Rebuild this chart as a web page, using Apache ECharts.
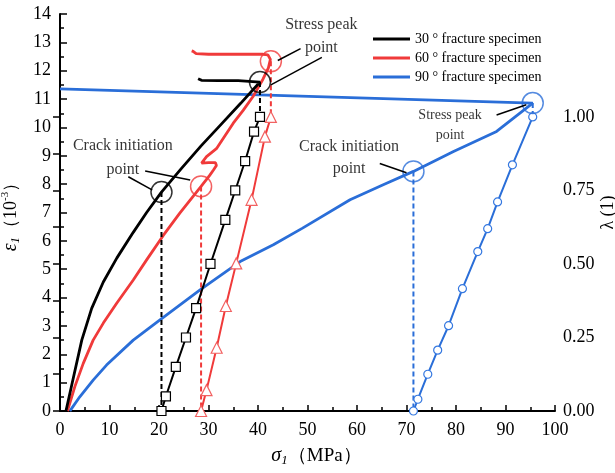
<!DOCTYPE html>
<html>
<head>
<meta charset="utf-8">
<script src="https://cdn.jsdelivr.net/npm/echarts@6/dist/echarts.min.js"></script>
<style>
  html, body { margin: 0; padding: 0; background: #ffffff; }
  #chart { width: 615px; height: 473px; }
</style>
</head>
<body>
<div id="chart"></div>
<script>
// ---- data -------------------------------------------------------------
const specimenNames = ['30 ° fracture specimen', '60 ° fracture specimen', '90 ° fracture specimen'];

// axial strain ε1 (10^-3) against axial stress σ1 (MPa), incl. post-peak branch
const strain30 = [
  [1.2, 0], [2.8, 1.25], [4.4, 2.5], [6.4, 3.62], [8.75, 4.55], [11.5, 5.4],
  [14.8, 6.3], [17.5, 7.0], [20.5, 7.72], [24.5, 8.55], [28.5, 9.35], [32.5, 10.1],
  [36.5, 10.85], [40.4, 11.6], [40.6, 11.66], [36, 11.65], [32, 11.65], [28.6, 11.66], [27.9, 11.72]
];
const strain60 = [
  [1.5, 0], [3.0, 0.86], [4.7, 1.68], [6.7, 2.5], [8.75, 3.1], [11.45, 3.8],
  [14.8, 4.62], [17.5, 5.33], [20.9, 6.2], [24.2, 6.98], [28.5, 7.92], [30.2, 8.3],
  [31.0, 8.5], [31.6, 8.66], [31.4, 8.76], [30.0, 8.76], [28.6, 8.74], [29.6, 8.97],
  [31.6, 9.25], [33.3, 9.7], [35, 10.15], [37, 10.6], [39, 11.09], [41, 11.7],
  [42.1, 12.1], [42.5, 12.4], [42.0, 12.56], [41, 12.58], [35, 12.58], [30, 12.58],
  [27.5, 12.6], [26.9, 12.68], [26.6, 12.7]
];
const strain90 = [
  [2.0, 0], [2.4, 0.1], [4.0, 0.5], [6.7, 1.09], [9.4, 1.62], [14.8, 2.5],
  [20.2, 3.21], [28.3, 4.27], [36.4, 5.27], [43.1, 5.86], [49.0, 6.45], [58.6, 7.45],
  [65.3, 7.98], [71.4, 8.45], [79.5, 9.15], [88.2, 9.86], [95.5, 10.86], [0, 11.36]
];

// crack damage ratio λ (1) against σ1 from crack initiation to peak
const lambda30 = [
  [20.5, 0], [21.4, 0.05], [23.4, 0.15], [25.45, 0.25], [27.5, 0.35], [30.4, 0.5],
  [33.4, 0.65], [35.4, 0.75], [37.4, 0.85], [39.2, 0.95], [40.4, 1.0]
];
const lambda60 = [
  [28.5, 0], [29.6, 0.071], [31.65, 0.215], [33.5, 0.357], [35.6, 0.502],
  [38.7, 0.718], [41.4, 0.933], [42.6, 1.0]
];
const lambda90 = [
  [71.4, 0], [72.3, 0.04], [74.3, 0.125], [76.3, 0.207], [78.5, 0.29], [81.3, 0.416],
  [84.4, 0.542], [86.4, 0.62], [88.4, 0.711], [91.4, 0.837], [95.5, 1.0]
];

// characteristic points [σ1, ε1]
const crackPoints = [[20.5, 7.72], [28.5, 7.92], [71.4, 8.45]];
const peakPoints = [[40.4, 11.6], [42.6, 12.33], [95.5, 10.86]];

// axis ticks
const lambdaTickValues = [0, 0.125, 0.25, 0.375, 0.5, 0.625, 0.75, 0.875, 1.0];
const lambdaLabelValues = [0, 0.25, 0.5, 0.75, 1.0];

// ---- layout & style ---------------------------------------------------
const SERIF = "'Liberation Serif', 'Times New Roman', serif";
const COLORS = ['#000000', '#f03a3a', '#2a6ed8'];
const MARKER_BORDER = ['#000000', '#f26262', '#3578e0'];
const MARKERS = ['rect', 'triangle', 'circle'];
const MARKER_SIZE = [9, 11, 8];

const W = 615, H = 473;
const GRID = { left: 60, right: 60, top: 14, bottom: 62 };
const LAMBDA_AXIS_TOP = 85;
const STRAIN_MAX = 14;
const LAMBDA_FULL_MAX = 1.35;
const plotH = H - GRID.top - GRID.bottom;
const lambdaAxisH = H - LAMBDA_AXIS_TOP - GRID.bottom;
const LAMBDA_VISIBLE_MAX = LAMBDA_FULL_MAX * lambdaAxisH / plotH;
const LAMBDA_TO_STRAIN = STRAIN_MAX / LAMBDA_FULL_MAX;

const strainSets = [strain30, strain60, strain90];
const lambdaSets = [lambda30, lambda60, lambda90];

const axisLineStyle = { color: '#000', width: 2 };
const tickLabel = { fontFamily: SERIF, fontSize: 18, color: '#000' };

const series = [];

// ε1 curves: 90° first so the others sit above it
[2, 1, 0].forEach(i => {
  series.push({
    name: specimenNames[i], type: 'line', xAxisIndex: 0, yAxisIndex: 0,
    data: strainSets[i], showSymbol: false, symbol: 'none',
    lineStyle: { color: COLORS[i], width: 2.8 }, itemStyle: { color: COLORS[i] },
    z: 2
  });
});

// dashed guides: crack initiation down to σ1 axis, peak down to λ = 1
[0, 1, 2].forEach(i => {
  const c = crackPoints[i], p = peakPoints[i];
  [[[c[0], c[1]], [c[0], 0]], [[p[0], p[1]], [p[0], LAMBDA_TO_STRAIN]]].forEach(seg => {
    series.push({
      type: 'line', xAxisIndex: 0, yAxisIndex: 0, data: seg, symbol: 'none',
      lineStyle: { color: COLORS[i], width: 2, type: [5, 3] }, z: 2, silent: true
    });
  });
});

// λ curves with hollow markers
[0, 1, 2].forEach(i => {
  series.push({
    name: 'λ ' + specimenNames[i], type: 'line', xAxisIndex: 0, yAxisIndex: 1,
    data: lambdaSets[i], symbol: MARKERS[i], symbolSize: MARKER_SIZE[i], showSymbol: true,
    lineStyle: { color: COLORS[i], width: 2 },
    itemStyle: { color: '#ffffff', borderColor: MARKER_BORDER[i], borderWidth: 1.2 },
    z: 3
  });
});

// hollow rings around the characteristic points
[0, 1, 2].forEach(i => {
  series.push({
    type: 'scatter', xAxisIndex: 0, yAxisIndex: 0,
    data: [crackPoints[i], peakPoints[i]], symbol: 'circle', symbolSize: 21,
    itemStyle: { color: 'rgba(0,0,0,0)', borderColor: COLORS[i], borderWidth: 1.5 },
    z: 4, silent: true
  });
});

// text notes and pointer arrows (placed in σ1–ε1 units)
const notes = [
  { at: [52.8, 13.22], text: 'Stress peak\npoint', size: 16, lh: 23 },
  { at: [12.7, 8.92], text: 'Crack initiation\npoint', size: 16, lh: 24 },
  { at: [58.4, 8.92], text: 'Crack initiation\npoint', size: 16, lh: 22 },
  { at: [78.8, 10.08], text: 'Stress peak\npoint', size: 14, lh: 20 }
];
series.push({
  type: 'scatter', xAxisIndex: 0, yAxisIndex: 0, symbolSize: 0, silent: true, z: 5,
  data: notes.map(n => ({
    value: n.at,
    label: {
      show: true, position: 'inside', formatter: n.text, align: 'center', verticalAlign: 'middle',
      fontFamily: SERIF, fontSize: n.size, lineHeight: n.lh, color: '#000'
    }
  }))
});

const arrows = [
  [[48.6, 12.78], [44.0, 12.36]],
  [[52.9, 12.47], [42.6, 11.5]],
  [[13.8, 8.26], [18.6, 7.8]],
  [[17.2, 8.46], [26.3, 8.15]],
  [[64.6, 8.73], [70.0, 8.4]],
  [[88.2, 10.44], [94.2, 10.8]]
];
series.push({
  type: 'line', xAxisIndex: 0, yAxisIndex: 0, data: [], silent: true, z: 5,
  markLine: {
    silent: true, animation: false,
    symbol: ['none', 'arrow'], symbolSize: [0, 9],
    label: { show: false },
    lineStyle: { color: '#000', width: 1.5, type: 'solid' },
    emphasis: { disabled: true },
    data: arrows.map(a => [{ coord: a[0] }, { coord: a[1] }])
  }
});

const gridBase = { left: GRID.left, right: GRID.right, bottom: GRID.bottom, containLabel: false, outerBoundsMode: 'none' };

const option = {
  animation: false,
  backgroundColor: '#ffffff',
  legend: {
    orient: 'vertical', left: 368, top: 27, itemWidth: 37, itemHeight: 3, itemGap: 5,
    icon: 'rect', data: specimenNames, selectedMode: false,
    textStyle: { fontFamily: SERIF, fontSize: 14, color: '#000' }
  },
  grid: [
    Object.assign({ top: GRID.top }, gridBase),
    Object.assign({ top: LAMBDA_AXIS_TOP }, gridBase)
  ],
  xAxis: [
    {
      gridIndex: 0, type: 'value', min: 0, max: 100, interval: 10,
      axisLine: { lineStyle: axisLineStyle },
      axisTick: { inside: true, length: 6, lineStyle: { color: '#000', width: 1.5 } },
      minorTick: { show: true, splitNumber: 2, length: 4, lineStyle: { color: '#000', width: 1.5 } },
      axisLabel: Object.assign({ margin: 10 }, tickLabel),
      splitLine: { show: false },
      name: '{e|σ}{s|1}{t|（MPa）}', nameLocation: 'middle', nameGap: 34,
      nameTextStyle: {
        rich: {
          e: { fontFamily: SERIF, fontStyle: 'italic', fontSize: 20, color: '#000', lineHeight: 22, padding: [0, 0, 0, 18] },
          s: { fontFamily: SERIF, fontStyle: 'italic', fontSize: 13, color: '#000', verticalAlign: 'bottom', lineHeight: 22 },
          t: { fontFamily: SERIF, fontSize: 19, color: '#000', lineHeight: 22 }
        }
      }
    },
    { gridIndex: 1, type: 'value', min: 0, max: 100, show: false }
  ],
  yAxis: [
    {
      gridIndex: 0, type: 'value', position: 'left', min: 0, max: STRAIN_MAX, interval: 1,
      axisLine: { show: true, lineStyle: axisLineStyle },
      axisTick: { inside: true, length: 7, lineStyle: { color: '#000', width: 1.5 } },
      minorTick: { show: true, splitNumber: 2, length: 4, lineStyle: { color: '#000', width: 1.5 } },
      axisLabel: Object.assign({ margin: 9 }, tickLabel),
      splitLine: { show: false },
      name: '{e|ε}{s|1}{t|（10}{p|-3}{t|）}', nameLocation: 'middle', nameGap: 30, nameRotate: 90,
      nameTextStyle: {
        rich: {
          e: { fontFamily: SERIF, fontStyle: 'italic', fontSize: 20, color: '#000', lineHeight: 22 },
          s: { fontFamily: SERIF, fontStyle: 'italic', fontSize: 13, color: '#000', verticalAlign: 'bottom', lineHeight: 22 },
          t: { fontFamily: SERIF, fontSize: 18, color: '#000', lineHeight: 22 },
          p: { fontFamily: SERIF, fontSize: 11, color: '#000', verticalAlign: 'top', lineHeight: 22 }
        }
      }
    },
    {
      gridIndex: 0, type: 'value', position: 'right', min: 0, max: LAMBDA_FULL_MAX,
      axisLine: { show: false }, axisTick: { show: false }, axisLabel: { show: false },
      splitLine: { show: false },
      name: 'λ (1)', nameLocation: 'middle', nameGap: 44, nameRotate: 90,
      nameTextStyle: { fontFamily: SERIF, fontSize: 18, color: '#000' }
    },
    {
      gridIndex: 1, type: 'value', position: 'right', min: 0, max: LAMBDA_VISIBLE_MAX,
      axisLine: { show: true, lineStyle: axisLineStyle },
      axisTick: { show: true, inside: true, length: 7, customValues: lambdaTickValues,
        lineStyle: { color: '#000', width: 1.5 } },
      axisLabel: Object.assign({ margin: 8, customValues: lambdaLabelValues,
        formatter: v => v.toFixed(2) }, tickLabel),
      splitLine: { show: false }
    }
  ],
  series: series
};

const chart = echarts.init(document.getElementById('chart'), null, { renderer: 'canvas' });
chart.setOption(option);
</script>
</body>
</html>
